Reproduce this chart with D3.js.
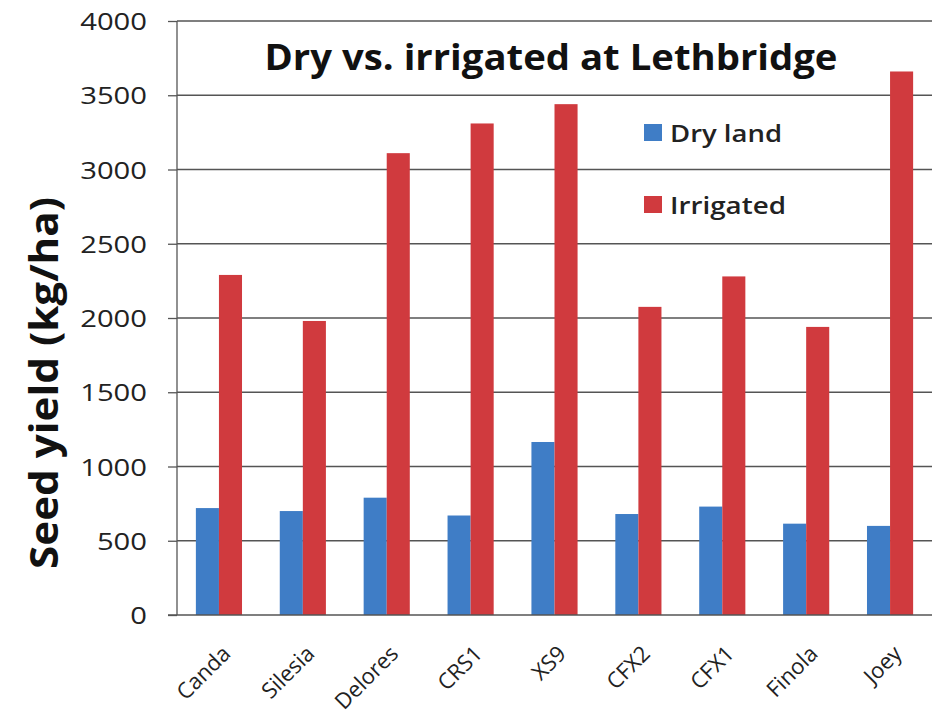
<!DOCTYPE html>
<html><head><meta charset="utf-8">
<script src="https://cdn.jsdelivr.net/npm/d3@7"></script>
<style>body{margin:0;background:#fff;} svg{display:block;}</style>
</head><body>
<svg id="chart" width="948" height="726"></svg>
<script>
const categories = ["Canda","Silesia","Delores","CRS1","XS9","CFX2","CFX1","Finola","Joey"];
const dryLand   = [720, 700, 790, 670, 1165, 680, 730, 615, 600];
const irrigated = [2290, 1980, 3110, 3310, 3440, 2075, 2280, 1940, 3660];
const seriesNames = ["Dry land","Irrigated"];
const yTicks = [0,500,1000,1500,2000,2500,3000,3500,4000];
const titleText = "Dry vs. irrigated at Lethbridge";
const yLabel = "Seed yield (kg/ha)";

const colors = ["#3f7dc6","#d03a3e"];
const FONT = "'Open Sans', sans-serif";
const svg = d3.select("#chart");
const m = {left:177, right:932, top:21, bottom:615};

const x = d3.scaleBand().domain(categories).range([m.left, m.right]).paddingInner(0.45).paddingOuter(0.225);
const xs = d3.scaleBand().domain(seriesNames).range([0, x.bandwidth()]);
const y = d3.scaleLinear().domain([0,4000]).range([m.bottom, m.top]);

// gridlines
svg.append("g").selectAll("line").data(yTicks.filter(t=>t>0)).join("line")
  .attr("x1", m.left).attr("x2", m.right)
  .attr("y1", d=>y(d)).attr("y2", d=>y(d))
  .attr("stroke","#555").attr("stroke-width",1.3);

// bars
const data = categories.map((c,i)=>({c, vals:[dryLand[i], irrigated[i]]}));
const g = svg.append("g").selectAll("g").data(data).join("g")
  .attr("transform", d=>`translate(${x(d.c)},0)`);
g.selectAll("rect").data(d=>d.vals.map((v,j)=>({v,s:seriesNames[j],j}))).join("rect")
  .attr("x", d=>xs(d.s)).attr("width", xs.bandwidth())
  .attr("y", d=>y(d.v)).attr("height", d=>y(0)-y(d.v))
  .attr("fill", d=>colors[d.j]);

// y axis
const yAxis = d3.axisLeft(y).tickValues(yTicks).tickSize(9).tickPadding(21).tickFormat(d3.format("d"));
const ya = svg.append("g").attr("transform",`translate(${m.left},0)`).call(yAxis);
ya.select(".domain").attr("stroke","#555").attr("stroke-width",1.3).attr("d",`M-0,${m.bottom}V${m.top}`);
ya.selectAll(".tick line").attr("stroke","#555").attr("stroke-width",1.3);
ya.selectAll(".tick text").attr("font-family",FONT).attr("font-size",24).attr("fill","#222")
  .attr("dy","0.36em")
  .attr("textLength", d=>String(d).length*16.7).attr("lengthAdjust","spacingAndGlyphs");

// x axis baseline
const xAxis = d3.axisBottom(x).tickSize(0).tickPadding(0);
const xa = svg.append("g").attr("transform",`translate(0,${m.bottom})`).call(xAxis);
xa.select(".domain").attr("stroke","#555").attr("stroke-width",1.5).attr("d",`M${m.left-9},0H${m.right}`);
xa.selectAll(".tick text")
  .attr("font-family",FONT).attr("font-size",22).attr("fill","#222")
  .attr("text-anchor","end").attr("dy",0).attr("y",0)
  .attr("transform","translate(13,40) rotate(-45)");

// title
svg.append("text").attr("x",551).attr("y",70).attr("text-anchor","middle")
  .attr("font-family",FONT).attr("font-weight","bold").attr("font-size",35)
  .attr("textLength",573).attr("lengthAdjust","spacingAndGlyphs")
  .attr("fill","#111").text(titleText);

// y label
svg.append("text").attr("transform","translate(58,383) rotate(-90)").attr("text-anchor","middle")
  .attr("font-family",FONT).attr("font-weight","bold").attr("font-size",40)
  .attr("textLength",372).attr("lengthAdjust","spacingAndGlyphs")
  .attr("fill","#111").text(yLabel);

// legend
const lg = svg.append("g").selectAll("g").data(seriesNames).join("g")
  .attr("transform",(d,i)=>`translate(644,${124+i*72})`);
lg.append("rect").attr("width",18).attr("height",17).attr("fill",(d,i)=>colors[i]);
lg.append("text").attr("x",26).attr("y",18).attr("font-family",FONT)
  .attr("font-weight",600).attr("font-size",24).attr("fill","#222")
  .attr("textLength",(d,i)=>[112,116][i]).attr("lengthAdjust","spacingAndGlyphs")
  .text(d=>d);
</script>
</body></html>
